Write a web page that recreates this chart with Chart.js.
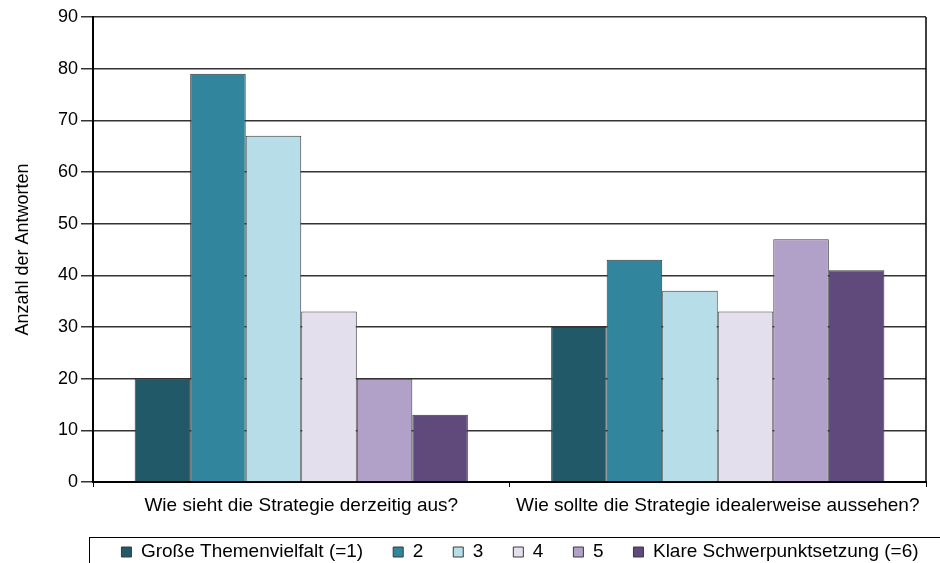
<!DOCTYPE html>
<html>
<head>
<meta charset="utf-8">
<style>
  html, body { margin: 0; padding: 0; background: #fff; }
</style>
<script src="https://cdn.jsdelivr.net/npm/chart.js@4/dist/chart.umd.min.js"></script>
</head>
<body>
<canvas id="myChart" width="940" height="563"></canvas>
<script>
var categories = ["Wie sieht die Strategie derzeitig aus?", "Wie sollte die Strategie idealerweise aussehen?"];
var seriesNames = ["Große Themenvielfalt (=1)", "2", "3", "4", "5", "Klare Schwerpunktsetzung (=6)"];
var answers1 = [20, 30];
var answers2 = [79, 43];
var answers3 = [67, 37];
var answers4 = [33, 33];
var answers5 = [20, 47];
var answers6 = [13, 41];
var colors = ["#215968", "#31859C", "#B7DEE8", "#E4DFEC", "#B1A0C7", "#604A7B"];

var font = "'Liberation Sans', Arial, sans-serif";
var seriesValues = [answers1, answers2, answers3, answers4, answers5, answers6];

var datasets = [];
seriesNames.forEach(function(name, i) {
  datasets.push({
    label: name,
    data: seriesValues[i],
    backgroundColor: colors[i],
    borderColor: '#3a3a3a',
    borderWidth: 1,
    categoryPercentage: 0.8,
    barPercentage: 1.0
  });
});

// frame round the plot area and box round the legend
var framePlugin = {
  id: 'frame',
  afterLayout: function(chart) {
    var lg = chart.legend;
    lg.left += 57;
    lg.right += 57;
    lg.top -= 9.5;
    lg.bottom -= 9.5;
  },
  afterDraw: function(chart) {
    var c = chart.ctx;
    var a = chart.chartArea;
    c.save();
    c.strokeStyle = '#000';
    c.lineWidth = 1.5;
    c.beginPath();
    c.moveTo(a.right, a.top);
    c.lineTo(a.right, a.bottom);
    c.stroke();
    c.lineWidth = 1;
    c.strokeRect(89.5, 537.5, 900, 60);
    c.restore();
  }
};

var ctx = document.getElementById("myChart");
var myChart = new Chart(ctx, {
  type: 'bar',
  data: {
    labels: categories,
    datasets: datasets
  },
  plugins: [framePlugin],
  options: {
    responsive: false,
    animation: false,
    layout: { padding: { top: 17, right: 14, left: 0, bottom: -18 } },
    plugins: {
      tooltip: { enabled: false },
      legend: {
        position: 'bottom',
        labels: {
          boxWidth: 10,
          boxHeight: 10,
          padding: 30,
          color: '#000',
          font: { family: font, size: 19 }
        }
      }
    },
    scales: {
      x: {
        grid: {
          offset: true,
          drawOnChartArea: false,
          tickLength: 5,
          color: '#000',
          lineWidth: 1
        },
        border: { color: '#000', width: 2 },
        ticks: {
          color: '#000',
          padding: 7,
          maxRotation: 0,
          font: { family: font, size: 19 }
        },
        afterFit: function(scale) { scale.height = 40; }
      },
      y: {
        min: 0,
        max: 90,
        ticks: {
          stepSize: 10,
          color: '#000',
          padding: 3,
          font: { family: font, size: 18 }
        },
        grid: {
          color: '#333',
          lineWidth: 1.5,
          tickLength: 12
        },
        border: { color: '#000', width: 2 },
        title: {
          display: true,
          text: 'Anzahl der Antworten',
          color: '#000',
          padding: { top: 12, bottom: 0 },
          font: { family: font, size: 18 }
        },
        afterFit: function(scale) { scale.width = 93; }
      }
    }
  }
});
</script>
</body>
</html>
